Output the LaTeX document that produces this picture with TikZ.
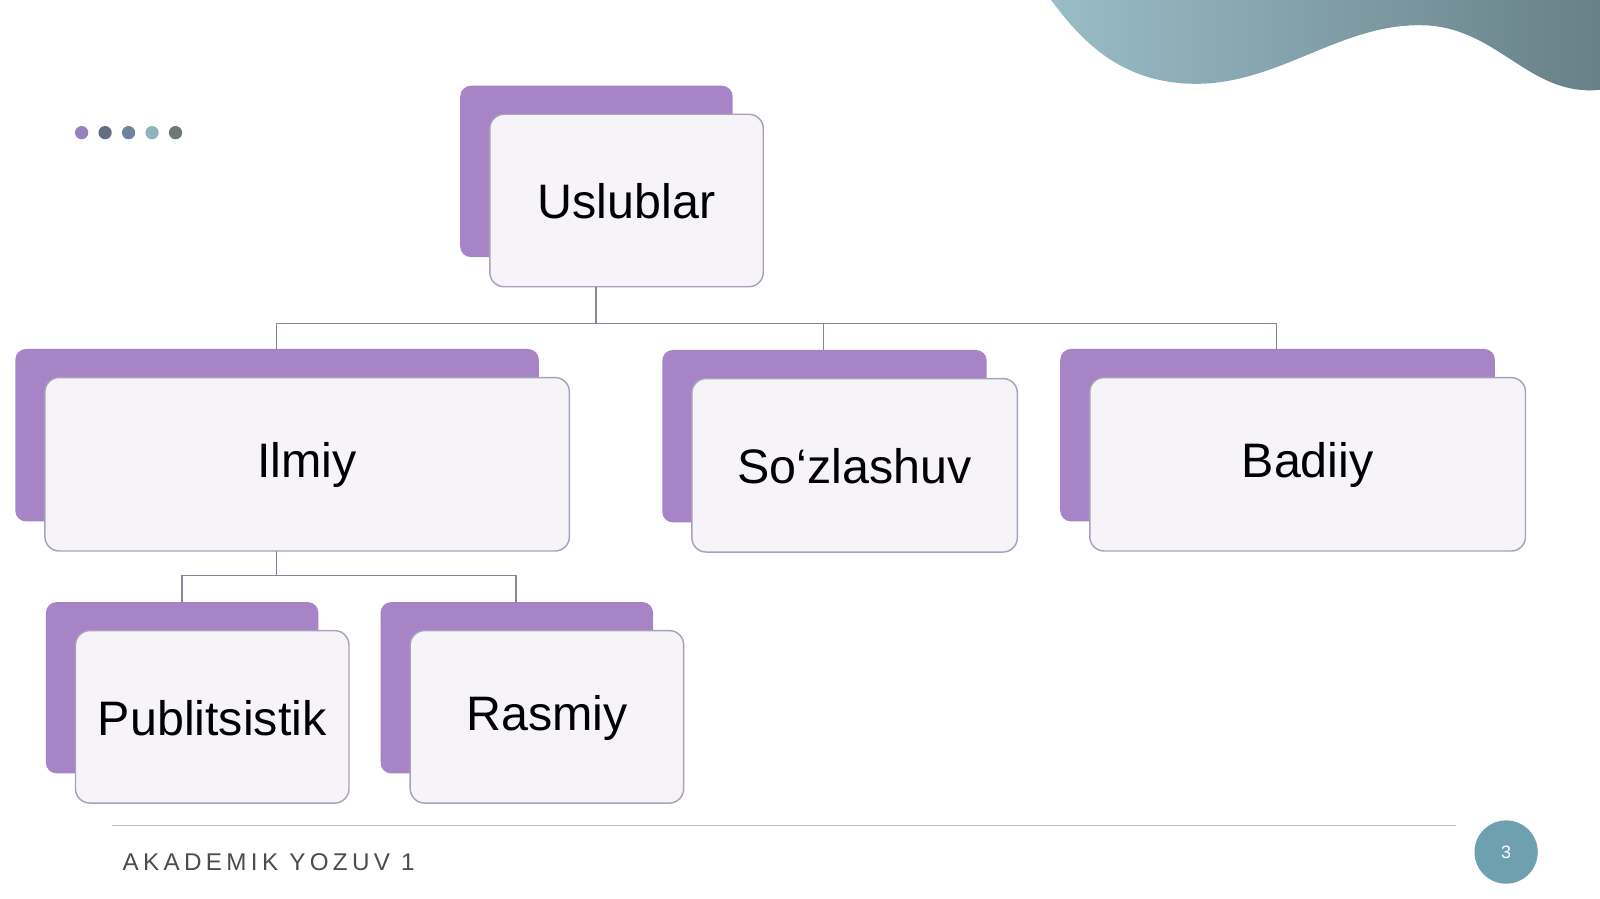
\documentclass[tikz,border=0pt]{standalone}
\usepackage{fontspec}
\setmainfont{Liberation Sans}
\begin{document}
\begin{tikzpicture}[x=0.02cm,y=-0.02cm,
  back/.style={fill=backp,rounded corners=6pt,draw=none},
  front/.style={fill=frontc,draw=bordc,line width=0.8pt,rounded corners=8pt},
  lbl/.style={font=\fontsize{27}{31}\selectfont,text=black},
  conn/.style={draw=connc,line width=1pt}]
\definecolor{backp}{RGB}{167,132,198}
\definecolor{frontc}{RGB}{246,244,249}
\definecolor{bordc}{RGB}{170,160,185}
\definecolor{connc}{RGB}{140,130,155}
\definecolor{tealc}{RGB}{110,160,175}
\definecolor{d1}{RGB}{150,130,190}
\definecolor{d2}{RGB}{100,110,135}
\definecolor{d3}{RGB}{110,130,160}
\definecolor{d4}{RGB}{140,180,185}
\definecolor{d5}{RGB}{110,120,120}
\useasboundingbox (0,0) rectangle (1568,881);
\fill[white] (0,0) rectangle (1568,881);
% wave
\shade[left color=tealc!70!white, right color=tealc!60!black!80!white]
 (1030,0) .. controls (1060,40) and (1100,85) .. (1180,82)
 .. controls (1260,78) and (1320,20) .. (1400,25)
 .. controls (1470,30) and (1500,95) .. (1568,88) -- (1568,0) -- cycle;
% dots
\foreach \x/\c in {80/d1,103/d2,126/d3,149/d4,172/d5}{
  \fill[\c] (\x,130) circle (6.5);}
% boxes
\newcommand\mybox[6]{%
  \fill[back] (#1-29,#2-28) rectangle (#3-30,#4-29);
  \draw[front] (#1,#2) rectangle (#3,#4);
  \node[lbl] (#5) at ({(#1+#3)/2},{(#2+#4)/2+1}) {#6};}
\mybox{480}{112}{748}{281}{u}{Uslublar}
\mybox{44}{370}{558}{540}{i}{Ilmiy}
\mybox{678}{371}{997}{541}{s}{So‘zlashuv}
\mybox{1068}{370}{1495}{540}{b}{Badiiy}
\mybox{74}{618}{342}{787}{p}{Publitsistik}
\mybox{402}{618}{670}{787}{r}{Rasmiy}
\draw[conn] (584,281) -- (584,317) -- (807,317) -- (807,343);
\draw[conn] (271,343) -- (271,317) -- (1251,317) -- (1251,343);
\draw[conn] (271,540) -- (271,564);
\draw[conn] (178,591) -- (178,564) -- (506,564) -- (506,591);
% footer
\draw[gray!50,line width=0.8pt] (110,809) -- (1427,809);
\node[anchor=west,text=black!70,font=\fontsize{13.5}{16}\selectfont\addfontfeature{LetterSpace=18}] (f) at (114,845) {AKADEMIK YOZUV 1};
\fill[tealc] (1476,835) circle (31);
\node[text=white,font=\fontsize{10}{12}\selectfont] (n) at (1476,835) {3};
\end{tikzpicture}
\end{document}
